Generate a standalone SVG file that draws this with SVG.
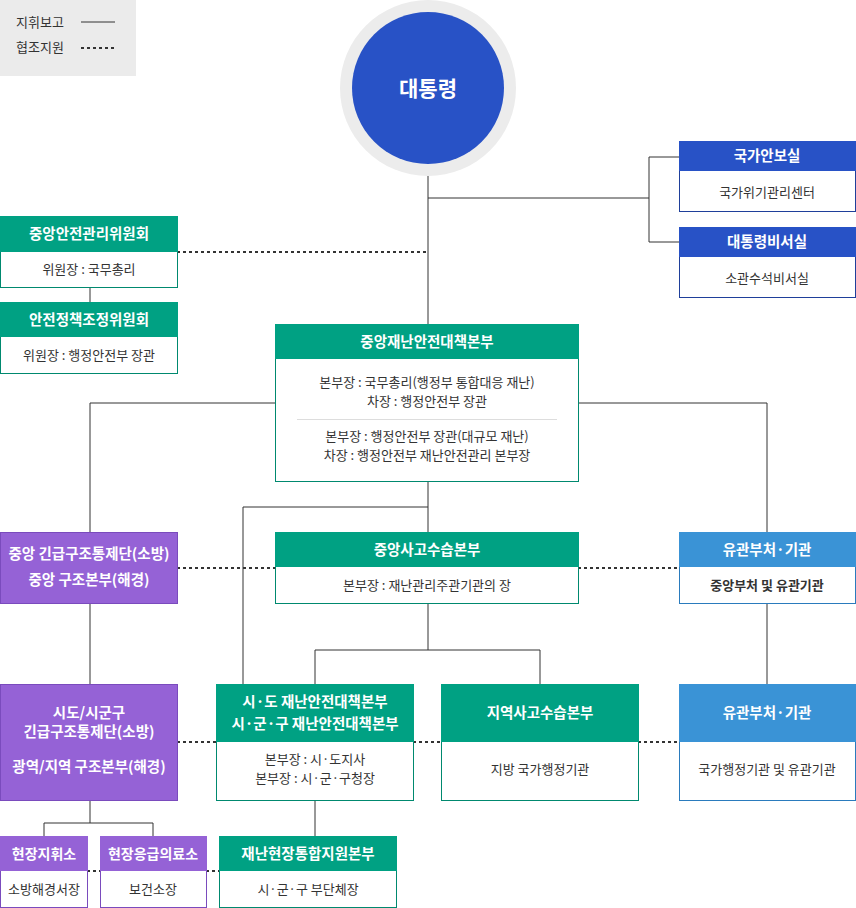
<svg xmlns="http://www.w3.org/2000/svg" width="856" height="908" viewBox="0 0 856 908">
<style>
text{font-family:"Noto Sans CJK KR","Noto Sans",sans-serif;text-anchor:middle}
.h{fill:#fff;font-size:14.5px;font-weight:bold}
.b{fill:#333;font-size:13px}
.ln{stroke:#333;stroke-width:1;fill:none}
.dt{stroke:#333;stroke-width:2;stroke-dasharray:3 3;fill:none}
.g{fill:#00a183}.gb{fill:#fff;stroke:#00896f}
.p{fill:#9562d6}.pb{fill:#fff;stroke:#7a4bbd}
.n{fill:#2852c6}.nb{fill:#fff;stroke:#1f3f9a}
.l{fill:#3a93d6}.lb{fill:#fff;stroke:#2a7bbd}
</style>
<g id="legend">
<rect x="0" y="0" width="136" height="76" fill="#ebebeb"/>
<text x="16" y="27" style="text-anchor:start;font-size:13px;fill:#333">지휘보고</text>
<line x1="81" y1="22" x2="115" y2="22" stroke="#333"/>
<text x="16" y="52" style="text-anchor:start;font-size:13px;fill:#333">협조지원</text>
<line x1="81" y1="48" x2="115" y2="48" class="dt"/>
</g>
<g id="connectors">
<path class="ln" d="M428,176V324M428,198H649M679,157H649V242H679M90,288V302M275,403H90V532M578,403H767V532M428,481V532M428,507H243V684M428,603V650M315,684V650H540V684M90,603V684M767,603V684M90,800V823M44,836V823H153V836M315,800V836"/>
<path class="dt" d="M177,252H428M177,568H275M578,568H679M177,742H216M413,742H441M638,742H679M87,871H100M206,871H219"/>
</g>
<g id="president">
<circle cx="428" cy="88" r="88" fill="#ececec"/>
<circle cx="428" cy="88" r="76" fill="#2852c6"/>
<text x="428" y="96" style="fill:#fff;font-size:21px;font-weight:bold">대통령</text>
</g>
<g id="nsa">
<rect x="679.5" y="141.5" width="176" height="70" class="nb"/>
<rect x="679" y="141" width="177" height="30" class="n"/>
<text x="767" y="161" class="h">국가안보실</text>
<text x="767" y="197" class="b">국가위기관리센터</text>
</g>
<g id="secretary">
<rect x="679.5" y="227.5" width="176" height="70" class="nb"/>
<rect x="679" y="227" width="177" height="30" class="n"/>
<text x="767" y="247" class="h">대통령비서실</text>
<text x="767" y="283" class="b">소관수석비서실</text>
</g>
<g id="committee1">
<rect x="0.5" y="216.5" width="177" height="71" class="gb"/>
<rect x="0" y="216" width="178" height="36" class="g"/>
<text x="89" y="239" class="h">중앙안전관리위원회</text>
<text x="89" y="274" class="b">위원장 : 국무총리</text>
</g>
<g id="committee2">
<rect x="0.5" y="302.5" width="177" height="71" class="gb"/>
<rect x="0" y="302" width="178" height="35" class="g"/>
<text x="89" y="325" class="h">안전정책조정위원회</text>
<text x="89" y="360" class="b">위원장 : 행정안전부 장관</text>
</g>
<g id="cdsch">
<rect x="275.5" y="324.5" width="303" height="157" class="gb"/>
<rect x="275" y="324" width="304" height="35" class="g"/>
<text x="427" y="347" class="h">중앙재난안전대책본부</text>
<text x="427" y="387" class="b">본부장 : 국무총리(행정부 통합대응 재난)</text>
<text x="427" y="406" class="b">차장 : 행정안전부 장관</text>
<line x1="297" y1="419.5" x2="557" y2="419.5" stroke="#ddd"/>
<text x="427" y="441" class="b">본부장 : 행정안전부 장관(대규모 재난)</text>
<text x="427" y="460" class="b">차장 : 행정안전부 재난안전관리 본부장</text>
</g>
<g id="central-rescue">
<rect x="0.5" y="532.5" width="177" height="71" class="p" stroke="#7a4bbd"/>
<text x="89" y="559" class="h">중앙 긴급구조통제단(소방)</text>
<text x="89" y="585" class="h">중앙 구조본부(해경)</text>
</g>
<g id="central-accident">
<rect x="275.5" y="532.5" width="303" height="71" class="gb"/>
<rect x="275" y="532" width="304" height="35" class="g"/>
<text x="427" y="555" class="h">중앙사고수습본부</text>
<text x="427" y="590" class="b">본부장 : 재난관리주관기관의 장</text>
</g>
<g id="related1">
<rect x="679.5" y="532.5" width="176" height="71" class="lb"/>
<rect x="679" y="532" width="177" height="35" class="l"/>
<text x="767" y="555" class="h">유관부처·기관</text>
<text x="767" y="590" class="b" style="font-weight:bold">중앙부처 및 유관기관</text>
</g>
<g id="local-rescue">
<rect x="0.5" y="684.5" width="177" height="116" class="p" stroke="#7a4bbd"/>
<text x="89" y="718" class="h">시도/시군구</text>
<text x="89" y="737" class="h">긴급구조통제단(소방)</text>
<text x="89" y="772" class="h">광역/지역 구조본부(해경)</text>
</g>
<g id="local-hq">
<rect x="216.5" y="684.5" width="197" height="116" class="gb"/>
<rect x="216" y="684" width="198" height="58" class="g"/>
<text x="315" y="707" class="h">시·도 재난안전대책본부</text>
<text x="315" y="729" class="h">시·군·구 재난안전대책본부</text>
<text x="315" y="764" class="b">본부장 : 시·도지사</text>
<text x="315" y="783" class="b">본부장 : 시·군·구청장</text>
</g>
<g id="regional-accident">
<rect x="441.5" y="684.5" width="197" height="116" class="gb"/>
<rect x="441" y="684" width="198" height="58" class="g"/>
<text x="540" y="718" class="h">지역사고수습본부</text>
<text x="540" y="774" class="b">지방 국가행정기관</text>
</g>
<g id="related2">
<rect x="679.5" y="684.5" width="176" height="116" class="lb"/>
<rect x="679" y="684" width="177" height="58" class="l"/>
<text x="767" y="718" class="h">유관부처·기관</text>
<text x="767" y="774" class="b">국가행정기관 및 유관기관</text>
</g>
<g id="field-command">
<rect x="0.5" y="836.5" width="87" height="71" class="pb"/>
<rect x="0" y="836" width="88" height="35" class="p"/>
<text x="44" y="859" class="h" style="font-size:14px">현장지휘소</text>
<text x="44" y="894" class="b">소방해경서장</text>
</g>
<g id="field-medical">
<rect x="100.5" y="836.5" width="106" height="71" class="pb"/>
<rect x="100" y="836" width="107" height="35" class="p"/>
<text x="153" y="859" class="h" style="font-size:14px">현장응급의료소</text>
<text x="153" y="894" class="b">보건소장</text>
</g>
<g id="field-support">
<rect x="219.5" y="836.5" width="177" height="71" class="gb"/>
<rect x="219" y="836" width="178" height="35" class="g"/>
<text x="308" y="859" class="h">재난현장통합지원본부</text>
<text x="308" y="894" class="b">시·군·구 부단체장</text>
</g>
</svg>
